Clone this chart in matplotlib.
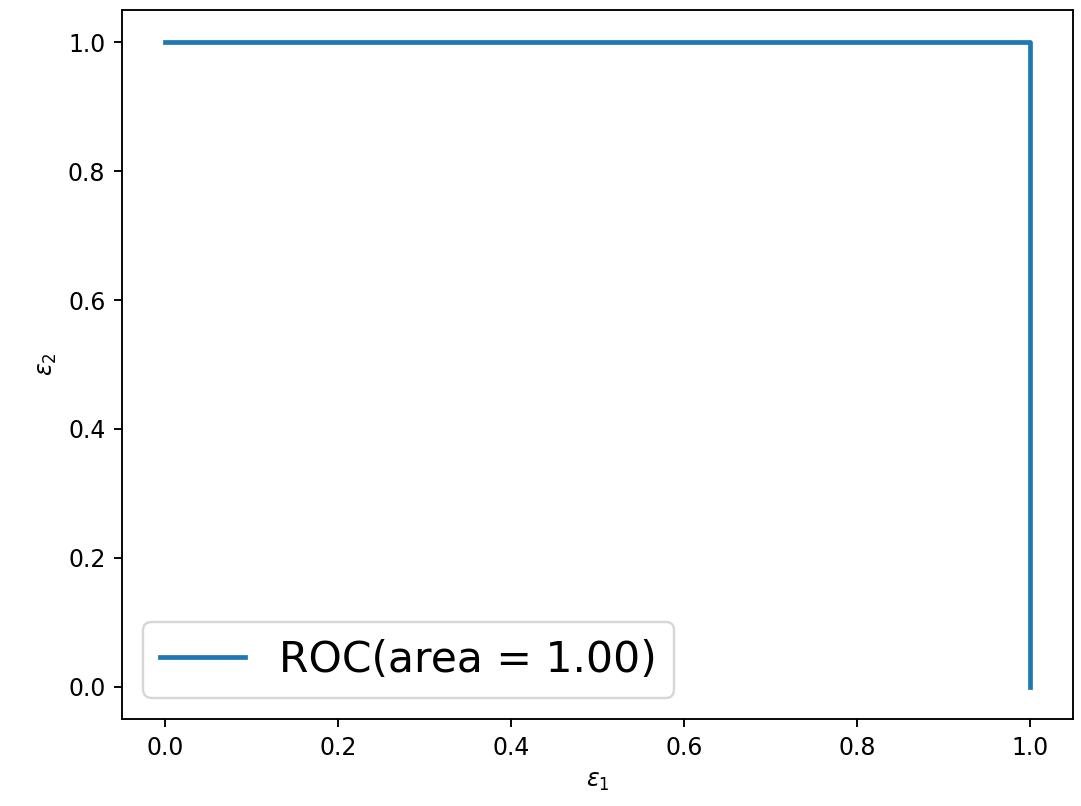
import matplotlib
matplotlib.use("Agg")
import matplotlib.pyplot as plt

# ROC curve points
fpr = [0.0, 1.0, 1.0]
tpr = [1.0, 1.0, 0.0]
roc_auc = 1.00

dpi = 170
fig = plt.figure(figsize=(1081 / dpi, 806 / dpi), dpi=dpi)
ax = fig.add_axes([122 / 1081, 1 - 719 / 806, (1073 - 122) / 1081, (719 - 10) / 806])

ax.plot(fpr, tpr, linewidth=2, label='ROC(area = %0.2f)' % roc_auc)

ax.set_xlabel(r'$\varepsilon_1$')
ax.set_ylabel(r'$\varepsilon_2$')
ax.legend(loc='lower left', fontsize=18)

fig.savefig("out.png", dpi=dpi)
